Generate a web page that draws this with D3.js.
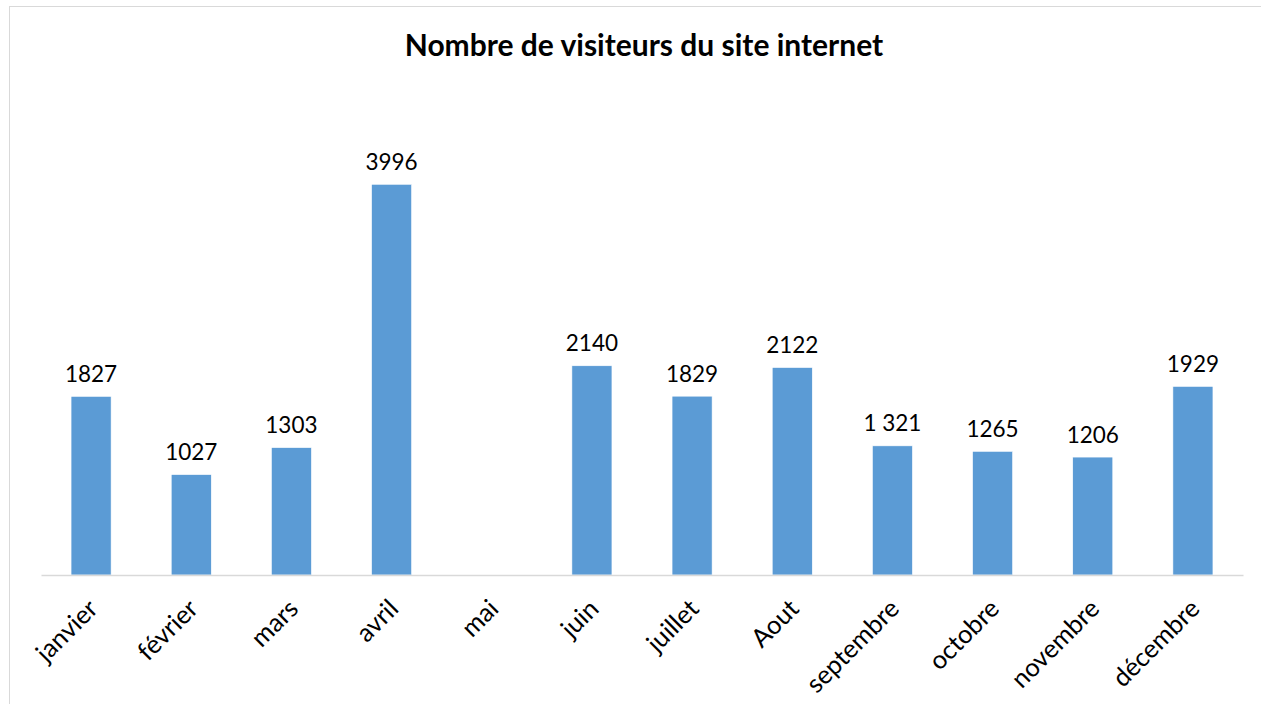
<!DOCTYPE html>
<html>
<head>
<meta charset="utf-8">
<script src="https://cdn.jsdelivr.net/npm/d3@7"></script>
<style>
  html, body { margin: 0; padding: 0; background: #fff; }
  svg { display: block; }
  text { font-family: Lato, "Open Sans", sans-serif; fill: #000; }
</style>
</head>
<body>
<svg id="chart" width="1261" height="704"></svg>
<script>
const title = "Nombre de visiteurs du site internet";
const categories = ["janvier", "février", "mars", "avril", "mai", "juin", "juillet", "Aout", "septembre", "octobre", "novembre", "décembre"];
const values = [1827, 1027, 1303, 3996, null, 2140, 1829, 2122, 1321, 1265, 1206, 1929];
const valueLabels = ["1827", "1027", "1303", "3996", "", "2140", "1829", "2122", "1 321", "1265", "1206", "1929"];
const yDomain = [0, 4500];

const svg = d3.select("#chart");

// chart border
svg.append("rect")
  .attr("x", 9.5).attr("y", 6.5)
  .attr("width", 1300).attr("height", 760)
  .attr("fill", "#fff")
  .attr("stroke", "#d9d9d9").attr("stroke-width", 1);

const x = d3.scaleBand()
  .domain(categories)
  .range([41, 1243])
  .paddingInner(0.6)
  .paddingOuter(0.3);

const y = d3.scaleLinear()
  .domain(yDomain)
  .range([575, 135]);

// title
svg.append("text")
  .attr("x", 644).attr("y", 56)
  .attr("text-anchor", "middle")
  .attr("font-weight", "bold")
  .attr("font-size", 30)
  .text(title);

const data = categories.map((c, i) => ({ c, v: values[i], label: valueLabels[i] }));

// bars
svg.append("g").selectAll("rect")
  .data(data.filter(d => d.v != null))
  .join("rect")
  .attr("x", d => x(d.c))
  .attr("y", d => y(d.v))
  .attr("width", x.bandwidth())
  .attr("height", d => y(0) - y(d.v))
  .attr("fill", "#5b9bd5")
  .attr("stroke", "#ffffff")
  .attr("stroke-width", 0.6);

// x axis
const xAxis = svg.append("g")
  .attr("transform", `translate(0,${y(0)})`)
  .call(d3.axisBottom(x).tickSize(0).tickSizeOuter(0));
xAxis.select(".domain").attr("stroke", "#d9d9d9").attr("stroke-width", 1.5);
xAxis.selectAll(".tick text")
  .attr("font-family", "Lato, 'Open Sans', sans-serif")
  .attr("font-size", 25.5)
  .attr("fill", "#000")
  .attr("text-anchor", "end")
  .attr("x", 0).attr("y", 0).attr("dy", "0.35em")
  .attr("transform", "translate(2,29) rotate(-45)");

// value labels
svg.append("g").selectAll("text")
  .data(data.filter(d => d.v != null))
  .join("text")
  .attr("x", d => x(d.c) + x.bandwidth() / 2)
  .attr("y", d => y(d.v) - 14.5)
  .attr("text-anchor", "middle")
  .attr("font-size", 22.5)
  .text(d => d.label);
</script>
</body>
</html>
